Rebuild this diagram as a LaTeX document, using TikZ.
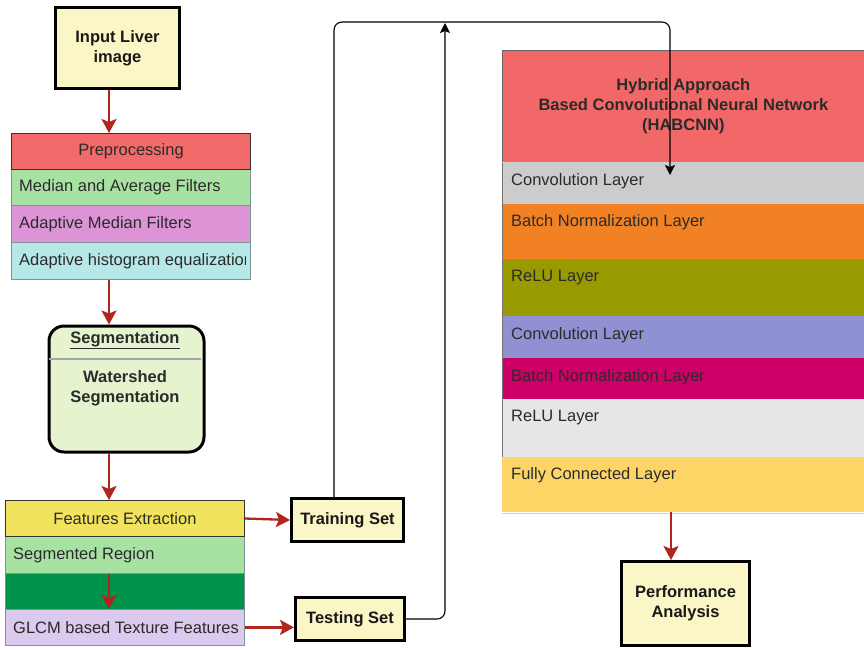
\documentclass[tikz,border=0pt]{standalone}
\usepackage{fontspec}
\setmainfont{Liberation Sans}
\usetikzlibrary{arrows.meta}
\definecolor{boxy}{HTML}{FAF6C6}
\definecolor{prer}{HTML}{F26B6B}
\definecolor{lgreen}{HTML}{A8E2A2}
\definecolor{lpink}{HTML}{DC94D6}
\definecolor{lcyan}{HTML}{B6E8E8}
\definecolor{segfill}{HTML}{E6F3CF}
\definecolor{featy}{HTML}{F2E35C}
\definecolor{dgreen}{HTML}{00934A}
\definecolor{lav}{HTML}{DCC9EE}
\definecolor{hdrred}{HTML}{F26868}
\definecolor{convg}{HTML}{CCCCCC}
\definecolor{orng}{HTML}{F28124}
\definecolor{olive}{HTML}{999900}
\definecolor{purp}{HTML}{8F91D3}
\definecolor{mag}{HTML}{CC0066}
\definecolor{lgray}{HTML}{E6E6E6}
\definecolor{fcy}{HTML}{FDD566}
\definecolor{arred}{HTML}{B0261F}
\definecolor{edgec}{HTML}{7A9696}
\definecolor{txt}{HTML}{2B2B2B}
\begin{document}
\begin{tikzpicture}[x=1pt,y=-1pt,
 font=\fontsize{16.5}{20}\selectfont, text=txt,
 thickbox/.style={draw=black, line width=3pt, fill=boxy, font=\fontsize{16.5}{20}\selectfont\bfseries, align=center, inner sep=0pt, text=black!90},
 lband/.style={anchor=north west, inner sep=0pt, minimum width=239pt, draw=edgec, line width=0.7pt},
 rband/.style={anchor=north west, inner sep=0pt, minimum width=362pt},
 ltext/.style={anchor=west, inner sep=0pt},
 rtext/.style={anchor=west, inner sep=0pt},
 btext/.style={font=\fontsize{16.5}{20}\selectfont\bfseries, align=center, inner sep=0pt},
 rarr/.style={draw=arred, line width=2.3pt, -{Stealth[length=14pt,width=15pt,inset=3pt]}},
 barr/.style={draw=black, line width=1.1pt, rounded corners=8pt, -{Stealth[length=10pt,width=10pt,inset=2pt]}}
]
\useasboundingbox (0,0) rectangle (864,649);
\fill[white] (0,0) rectangle (864,649);

% ---------- left column ----------
\node[thickbox, minimum width=124pt, minimum height=81pt] (input) at (117.5,48) {Input Liver\\image};

\node[lband, fill=lgreen, minimum height=36pt] (medf) at (11,169) {};
\node[ltext] (medfT) at ([xshift=8pt]medf.west) {Median and Average Filters};
\node[lband, fill=lpink, minimum height=37pt] (admf) at (11,205) {};
\node[ltext] (admfT) at ([xshift=8pt]admf.west) {Adaptive Median Filters};
\node[lband, fill=lcyan, minimum height=37pt] (hist) at (11,242) {};
\begin{scope}
\clip (11,242) rectangle (245,279);
\node[ltext] (histT) at ([xshift=8pt]hist.west) {Adaptive histogram equalization};
\end{scope}
\node[lband, fill=prer, minimum height=36pt, draw=black!80, line width=1pt] (pre) at (11,133) {Preprocessing};

\node[draw=black, line width=3pt, rounded corners=15pt, fill=segfill, minimum width=155pt, minimum height=126pt, anchor=north west, inner sep=0pt] (seg) at (47.5,324.5) {};
\draw[gray!70, line width=1.2pt] (49,359) -- (201,359);
\node[btext] (segT) at (125,340) {\underline{Segmentation}};
\node[btext] (segB) at (125,388) {Watershed\\Segmentation};

\node[lband, fill=lgreen, minimum height=37pt] (segr) at (5,536) {};
\node[ltext] (segrT) at ([xshift=8pt]segr.west) {Segmented Region};
\node[lband, fill=dgreen, minimum height=36pt] (dkg) at (5,573) {};
\node[lband, fill=lav, minimum height=36pt] (glcm) at (5,609) {};
\begin{scope}
\clip (5,609) rectangle (237.5,645);
\node[ltext] (glcmT) at ([xshift=8pt]glcm.west) {GLCM based Texture Features};
\end{scope}
\node[lband, fill=featy, minimum height=36pt, draw=black!80, line width=1pt] (feat) at (5,500) {Features Extraction};

\node[thickbox, minimum width=112pt, minimum height=43pt] (train) at (347.5,520) {Training Set};
\node[thickbox, minimum width=109pt, minimum height=43pt] (test) at (350,619) {Testing Set};

% ---------- right stack ----------
\node[rband, fill=hdrred, minimum height=112pt, draw=black!60, line width=0.7pt, btext] (hdr) at (502,50) {Hybrid Approach\\Based Convolutional Neural Network\\(HABCNN)};
\node[rband, fill=convg, minimum height=42pt] (conv1) at (502,162) {};
\node[rband, fill=orng, minimum height=55pt] (bn1) at (502,204) {};
\node[rband, fill=olive, minimum height=57pt] (relu1) at (502,259) {};
\node[rband, fill=purp, minimum height=42pt] (conv2) at (502,316) {};
\node[rband, fill=mag, minimum height=41pt] (bn2) at (502,358) {};
\node[rband, fill=lgray, minimum height=58pt] (relu2) at (502,399) {};
\node[rband, fill=fcy, minimum height=55pt] (fc) at (502,457) {};
\draw[black!55, line width=0.6pt] (hdr.south west) -- (fc.north west);
\draw[black!18, line width=1.5pt] ([yshift=-1pt]fc.south west) -- ([yshift=-1pt]fc.south east);
\node[rtext] (conv1T) at ([xshift=9pt,yshift=-19pt]conv1.north west) {Convolution Layer};
\node[rtext] (bn1T) at ([xshift=9pt,yshift=-18.5pt]bn1.north west) {Batch Normalization Layer};
\node[rtext] (relu1T) at ([xshift=9pt,yshift=-19pt]relu1.north west) {ReLU Layer};
\node[rtext] (conv2T) at ([xshift=9pt,yshift=-19pt]conv2.north west) {Convolution Layer};
\node[rtext] (bn2T) at ([xshift=9pt,yshift=-19pt]bn2.north west) {Batch Normalization Layer};
\node[rtext] (relu2T) at ([xshift=9pt,yshift=-19pt]relu2.north west) {ReLU Layer};
\node[rtext] (fcT) at ([xshift=9pt,yshift=-18pt]fc.north west) {Fully Connected Layer};

\node[thickbox, minimum width=128pt, minimum height=84pt] (perf) at (685.5,603.5) {Performance\\Analysis};

% ---------- connectors ----------
\coordinate (colx) at (109,0);
\coordinate (colr) at (671,0);
\draw[rarr] (input.south -| colx) -- (pre.north -| colx);
\draw[rarr] (hist.south -| colx) -- (seg.north -| colx);
\draw[rarr] (seg.south -| colx) -- (feat.north -| colx);
\draw[rarr] (segr.south -| colx) -- (glcm.north -| colx);
\draw[rarr] (feat.east) -- (train.west);
\draw[rarr] (glcm.east) -- (glcm.east -| test.west);
\draw[rarr] (fc.south -| colr) -- (perf.north -| colr);

\coordinate (tl) at (334,22);
\coordinate (tr) at (670,22);
\coordinate (convIn) at (670,175);
\draw[barr] (train.north -| tl) -- (tl) -- (tr) -- (convIn);
\coordinate (tt) at (445,23);
\draw[barr] (test.east) -| (tt);
\end{tikzpicture}
\end{document}
